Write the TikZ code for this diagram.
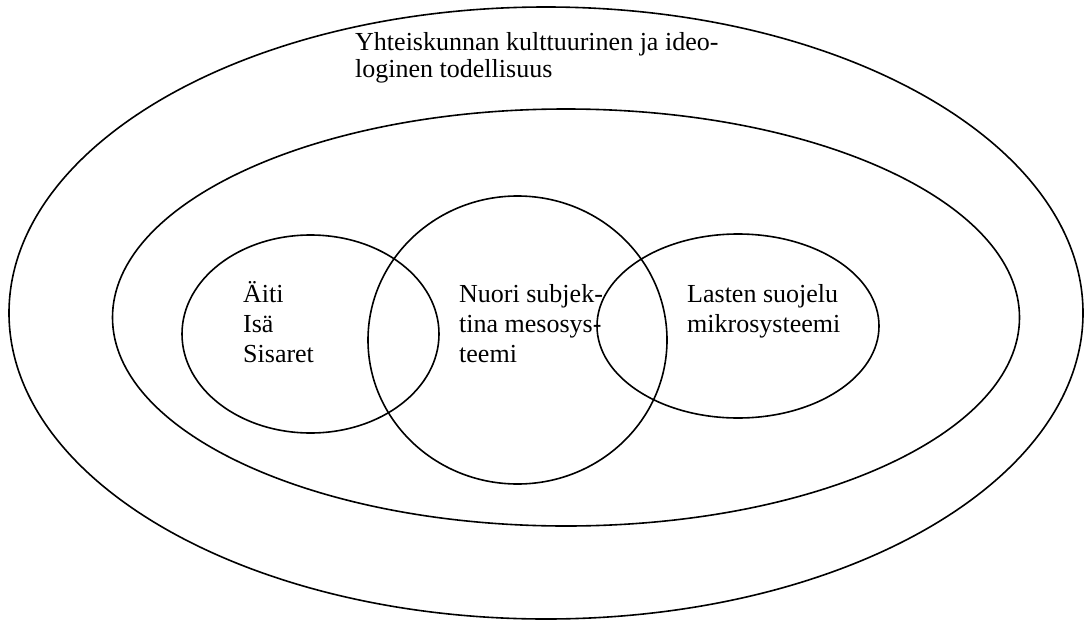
\documentclass[tikz,border=0pt]{standalone}
\usepackage{fontspec}
\setmainfont{Liberation Serif}
\begin{document}
\begin{tikzpicture}[x=1pt,y=-1pt,
  ring/.style={draw=black,line width=1.6pt},
  lbl/.style={inner sep=0pt,anchor=base west,align=left}]
\useasboundingbox (0,0) rectangle (1086,621);
% shapes
\draw[ring] (546,313) ellipse [x radius=537pt, y radius=306pt];
\draw[ring] (566,317.5) ellipse [x radius=453.5pt, y radius=208.5pt];
\draw[ring] (310.5,334) ellipse [x radius=128.5pt, y radius=99pt];
\draw[ring] (517.5,340) ellipse [x radius=149.5pt, y radius=144pt];
\draw[ring] (738,326) ellipse [x radius=141pt, y radius=92pt];
% texts (anchor = baseline of last line)
\node[lbl,font=\fontsize{26}{27}\selectfont] (society) at (355,77)
  {Yhteiskunnan kulttuurinen ja ideo-\\loginen todellisuus};
\node[lbl,font=\fontsize{26}{30}\selectfont] (family) at (243,362)
  {Äiti\\Isä\\Sisaret};
\node[lbl,font=\fontsize{26}{30}\selectfont] (youth) at (459,362)
  {Nuori subjek-\\tina mesosys-\\teemi};
\node[lbl,font=\fontsize{26}{30}\selectfont] (welfare) at (687,332)
  {Lasten suojelu\\mikrosysteemi};
\end{tikzpicture}
\end{document}
